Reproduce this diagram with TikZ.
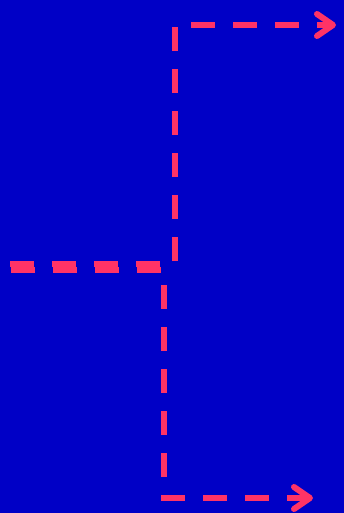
\documentclass[tikz,border=0pt]{standalone}
\usepackage{tikz}
\usetikzlibrary{arrows.meta}
\definecolor{bgblue}{HTML}{0000C6}
\definecolor{linkred}{HTML}{FF3366}

\begin{document}
\begin{tikzpicture}[
  x=1pt, y=-1pt,
  link/.style={draw=linkred, line width=6pt, dash pattern=on 24pt off 18pt,
    -{Straight Barb[length=16pt, width=22pt, line cap=round, line join=round, sep=0pt]}}
]

% background
\fill[bgblue] (0,0) rectangle (344,513);
\useasboundingbox (0,0) rectangle (344,513);

% branch points
\coordinate (srcA) at (10,264);
\coordinate (bendA) at (175,264);
\coordinate (cornerA) at (175,25);
\coordinate (dstA) at (336,25);

\coordinate (srcB) at (11,270);
\coordinate (bendB) at (164,270);
\coordinate (cornerB) at (164,498);
\coordinate (dstB) at (313,498);

% upper and lower connectors
\draw[link] (srcA) -- (bendA) -- (cornerA) -- (dstA);
\draw[link] (srcB) -- (bendB) -- (cornerB) -- (dstB);

\end{tikzpicture}
\end{document}
